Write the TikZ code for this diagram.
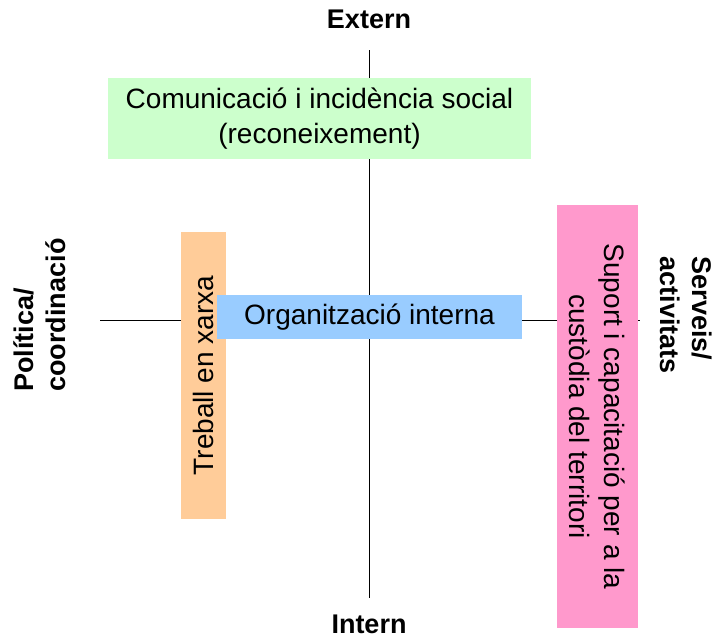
\documentclass[tikz,border=0pt]{standalone}
\usepackage{fontspec}
\setmainfont{Liberation Sans}
\definecolor{verd}{HTML}{CCFFCC}
\definecolor{taronja}{HTML}{FFCC99}
\definecolor{blau}{HTML}{99CCFF}
\definecolor{rosa}{HTML}{FF99CC}
\begin{document}
\begin{tikzpicture}[x=1pt,y=-1pt,
	caixa/.style={inner sep=0pt,align=center,font=\fontsize{28}{35}\selectfont},
	eix/.style={inner sep=0pt,align=left,font=\bfseries\fontsize{27}{32}\selectfont}]
	\useasboundingbox (0,0) rectangle (725,638);
	% etiquetes dels eixos
	\node[eix] (extern) at (369,19) {Extern};
	\node[eix] (intern) at (369,624) {Intern};
	\node[eix,rotate=90] (politica) at (40,315) {Política/\\coordinació};
	\node[eix,rotate=-90] (serveis) at (686,315) {Serveis/\\activitats};
	\coordinate (dalt) at (369,50);
	\coordinate (baix) at (369,598);
	\coordinate (esq) at (100,320);
	\coordinate (dreta) at (640,320);
	\draw[line width=0.7pt] (dalt) -- (baix);
	\draw[line width=0.7pt] (esq) -- (dreta);
	% caixes
	\node[caixa,fill=verd,minimum width=423,minimum height=81] (comunicacio) at (319.5,118.5) {Comunicació i incidència social\\(reconeixement)};
	\node[caixa,fill=taronja,rotate=90,minimum width=287,minimum height=45] (treball) at (203.5,375.5) {Treball en xarxa};
	\node[caixa,fill=blau,minimum width=305,minimum height=44] (organitzacio) at (369.5,317) {Organització interna};
	\node[caixa,fill=rosa,rotate=-90,minimum width=423,minimum height=81] (suport) at (597.5,416.5) {Suport i capacitació per a la\\custòdia del territori};
\end{tikzpicture}
\end{document}
